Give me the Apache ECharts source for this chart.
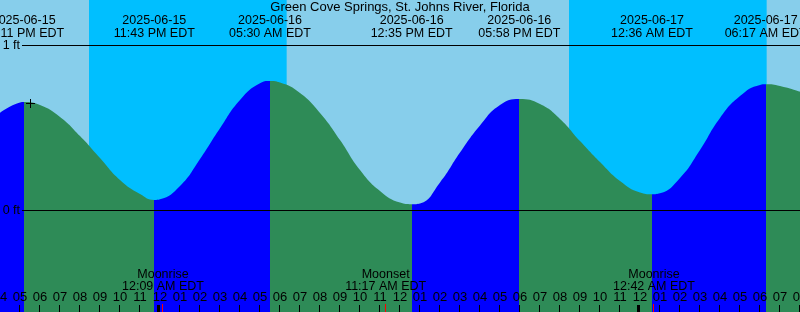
<!DOCTYPE html>
<html><head><meta charset="utf-8">
<script src="https://cdn.jsdelivr.net/npm/echarts@6/dist/echarts.min.js"></script>
<style>html,body{margin:0;padding:0;background:#87CEEB}#c{width:800px;height:312px}</style>
</head><body><div id="c"></div>
<script>
// ---------- data (time in hours after 2025-06-15 04:00 PM EDT) ----------
const titleText = 'Green Cove Springs, St. Johns River, Florida';
const hourLabels = ['04','05','06','07','08','09','10','11','12','01','02','03','04','05','06','07','08','09','10','11','12','01','02','03','04','05','06','07','08','09','10','11','12','01','02','03','04','05','06','07','08'];
const tideHours = [0,1,1.183,2,3,4,5,6,7,7.717,8,9,10,11,12,13,13.5,14,15,16,17,18,19,20,20.583,21,22,23,24,25,25.967,27,28,29,30,31,32,32.6,33,34,35,36,37,38,38.283,39,40];
const tideFeet = [0.590,0.652,0.655,0.636,0.564,0.448,0.315,0.182,0.097,0.061,0.065,0.145,0.309,0.496,0.667,0.768,0.782,0.773,0.709,0.588,0.424,0.242,0.115,0.045,0.035,0.040,0.167,0.348,0.512,0.636,0.673,0.642,0.552,0.418,0.291,0.176,0.106,0.095,0.101,0.194,0.364,0.558,0.691,0.758,0.762,0.752,0.717];
const extremeHours = [1.183, 7.717, 13.5, 20.583, 25.967, 32.6, 38.283];
const extremeKinds = ['H','L','H','L','H','L','H'];
const extremeDates = ['2025-06-15','2025-06-15','2025-06-16','2025-06-16','2025-06-16','2025-06-17','2025-06-17'];
const extremeTimes = ['05:11 PM EDT','11:43 PM EDT','05:30 AM EDT','12:35 PM EDT','05:58 PM EDT','12:36 AM EDT','06:17 AM EDT'];
const nightStart = [4.45, 28.45];
const nightEnd = [14.333, 38.333];
const moonHours = [8.15, 19.283, 32.7];
const moonEvents = ['Moonrise','Moonset','Moonrise'];
const moonTimes = ['12:09 AM EDT','11:17 AM EDT','12:42 AM EDT'];
const dayBreakHours = [8, 32];
const levelLines = [0, 1];
const levelLabels = ['0 ft', '1 ft'];
const nowHour = 1.5;
const nowLevel = 0.648;

// ---------- styles ----------
const dayColor = '#87CEEB', nightColor = '#00BFFF', floodColor = '#0000FF', ebbColor = '#2E8B57';
const FONT = "'Liberation Sans', Arial, sans-serif";
const NARROW = "'Liberation Sans Narrow', 'Liberation Sans', Arial, sans-serif";
const yMin = -102 / 165, yMax = 1 + 45 / 165;

const pieces = [];
for (let i = 0; i <= extremeHours.length; i++) {
  const rising = i < extremeHours.length ? extremeKinds[i] === 'H' : extremeKinds[i - 1] === 'L';
  const p = { color: rising ? floodColor : ebbColor };
  if (i > 0) p.gte = extremeHours[i - 1];
  if (i < extremeHours.length) p.lt = extremeHours[i];
  pieces.push(p);
}

const chart = echarts.init(document.getElementById('c'), null, { renderer: 'canvas' });
const bottomY = (params) => params.coordSys.y + params.coordSys.height;

chart.setOption({
  animation: false,
  backgroundColor: dayColor,
  title: {
    text: titleText, left: 'center', top: 0, padding: [1, 0, 0, 0],
    textStyle: { fontSize: 13, fontWeight: 'normal', color: '#000', fontFamily: FONT }
  },
  grid: { left: 0, right: 0, top: 0, bottom: 0, containLabel: false, outerBoundsMode: 'none' },
  xAxis: {
    type: 'value', min: 0, max: 40, interval: 1,
    axisLine: { show: false }, axisTick: { show: false }, splitLine: { show: false },
    axisLabel: {
      inside: true, margin: 8, color: '#000', fontSize: 13, fontFamily: NARROW,
      showMinLabel: true, showMaxLabel: true,
      formatter: (v) => hourLabels[Math.round(v)]
    },
    z: 10
  },
  yAxis: { type: 'value', min: yMin, max: yMax, show: false },
  visualMap: { type: 'piecewise', show: false, dimension: 0, seriesIndex: 1, pieces: pieces },
  series: [
    { // night bands
      type: 'custom', z: 1, silent: true,
      data: nightStart.map((s, i) => [s, nightEnd[i]]),
      renderItem: (params, api) => {
        const a = api.coord([api.value(0), yMax]);
        const b = api.coord([api.value(1), yMin]);
        return { type: 'rect', shape: { x: a[0], y: a[1], width: b[0] - a[0], height: b[1] - a[1] }, style: { fill: nightColor } };
      }
    },
    { // tide curve
      type: 'line', z: 2, silent: true, smooth: 0.5, symbol: 'none',
      data: tideHours.map((h, i) => [h, tideFeet[i]]),
      lineStyle: { width: 0 },
      areaStyle: { opacity: 1, origin: 'start' }
    },
    { // level lines
      type: 'custom', z: 5, silent: true,
      data: levelLines.map((v) => [0, v]),
      renderItem: (params, api) => {
        const cs = params.coordSys;
        const y = Math.round(api.coord([0, api.value(1)])[1]) + 0.5;
        return { type: 'group', children: [
          { type: 'line', shape: { x1: cs.x + 22, y1: y, x2: cs.x + cs.width, y2: y }, style: { stroke: '#000', lineWidth: 1 } },
          { type: 'text', style: { text: levelLabels[params.dataIndex], x: cs.x + 20, y: y, align: 'right', verticalAlign: 'middle', fill: '#000', font: '12.5px ' + FONT } }
        ]};
      }
    },
    { // hour ticks
      type: 'custom', z: 6, silent: true,
      data: hourLabels.map((_, i) => [i, 0]),
      renderItem: (params, api) => {
        const x = Math.round(api.coord([api.value(0), 0])[0]) - 0.5;
        const by = bottomY(params);
        return { type: 'line', shape: { x1: x, y1: by - 7, x2: x, y2: by }, style: { stroke: '#000', lineWidth: 1 } };
      }
    },
    { // day-break heavy ticks
      type: 'custom', z: 7, silent: true,
      data: dayBreakHours.map((h) => [h, 0]),
      renderItem: (params, api) => {
        const x = Math.round(api.coord([api.value(0), 0])[0]);
        const by = bottomY(params);
        return { type: 'rect', shape: { x: x - 3, y: by - 7, width: 3, height: 7 }, style: { fill: '#000' } };
      }
    },
    { // moon events
      type: 'custom', z: 8, silent: true,
      data: moonHours.map((h) => [h, 0]),
      renderItem: (params, api) => {
        const x = api.coord([api.value(0), 0])[0];
        const tx = Math.round(x) - 0.5;
        const by = bottomY(params);
        return { type: 'group', children: [
          { type: 'line', shape: { x1: tx, y1: by - 8, x2: tx, y2: by }, style: { stroke: '#FF0000', lineWidth: 1 } },
          { type: 'text', style: { text: moonEvents[params.dataIndex] + '\n' + moonTimes[params.dataIndex], x: x, y: by - 43, align: 'center', verticalAlign: 'top', lineHeight: 12, fill: '#000', font: '12.5px ' + FONT } }
        ]};
      }
    },
    { // extreme labels
      type: 'custom', z: 8, silent: true,
      data: extremeHours.map((h) => [h, 0]),
      renderItem: (params, api) => {
        const x = api.coord([api.value(0), 0])[0];
        return { type: 'text', style: { text: extremeDates[params.dataIndex] + '\n' + extremeTimes[params.dataIndex], x: x, y: params.coordSys.y + 14, align: 'center', verticalAlign: 'top', lineHeight: 13, fill: '#000', font: '12.5px ' + FONT } };
      }
    },
    { // current-time cross
      type: 'custom', z: 9, silent: true,
      data: [[nowHour, nowLevel]],
      renderItem: (params, api) => {
        const p = api.coord([api.value(0), api.value(1)]);
        const cx = Math.round(p[0]) + 0.5, cy = Math.round(p[1]) + 0.5;
        return { type: 'group', children: [
          { type: 'line', shape: { x1: cx - 4.5, y1: cy, x2: cx + 4.5, y2: cy }, style: { stroke: '#000', lineWidth: 1 } },
          { type: 'line', shape: { x1: cx, y1: cy - 4.5, x2: cx, y2: cy + 4.5 }, style: { stroke: '#000', lineWidth: 1 } }
        ]};
      }
    }
  ]
});
</script>
</body></html>
